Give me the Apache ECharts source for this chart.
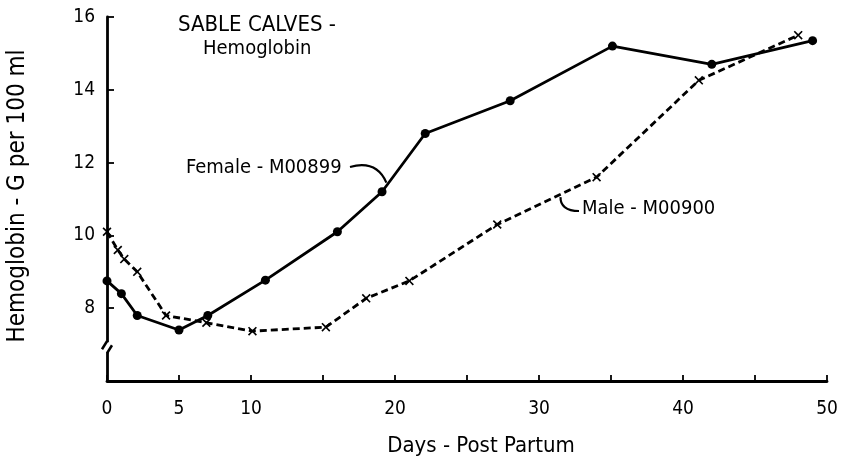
<!DOCTYPE html>
<html>
<head>
<meta charset="utf-8">
<script src="https://cdn.jsdelivr.net/npm/echarts@6/dist/echarts.min.js"></script>
<style>html,body{margin:0;padding:0;background:#fff}#c{width:845px;height:472px}</style>
</head>
<body>
<div id="c"></div>
<script>
// Female M00899: [day, hemoglobin g/100ml]
const femaleDays = [0, 1, 2.1, 5, 7, 11, 16, 19.1, 22.1, 28, 35.1, 42, 49];
const femaleHb   = [8.75, 8.4, 7.8, 7.4, 7.8, 8.77, 10.1, 11.2, 12.8, 13.7, 15.2, 14.7, 15.35];
// Male M00900
const maleDays = [0, 0.75, 1.2, 2.1, 4.1, 6.9, 10.1, 15.2, 18, 21, 27.1, 34, 41.1, 48];
const maleHb   = [10.1, 9.6, 9.35, 9.0, 7.8, 7.6, 7.37, 7.48, 8.27, 8.75, 10.3, 11.6, 14.26, 15.5];
const xLabels = [0, 5, 10, 20, 30, 40, 50];
const yLabels = [8, 10, 12, 14, 16];

const FONT = '"DejaVu Sans Condensed","DejaVu Sans",sans-serif';
const xMark = 'path://M1.3,0 L5,3.7 L8.7,0 L10,1.3 L6.3,5 L10,8.7 L8.7,10 L5,6.3 L1.3,10 L0,8.7 L3.7,5 L0,1.3 Z';

const chart = echarts.init(document.getElementById('c'), null, {renderer: 'canvas'});
const zip = (a, b) => a.map((v, i) => [v, b[i]]);

chart.setOption({
  animation: false,
  backgroundColor: '#fff',
  grid: {left: 107, right: 18, top: 17, bottom: 91, containLabel: false, outerBoundsMode: 'none'},
  xAxis: {
    type: 'value', min: 0, max: 50, interval: 5,
    name: 'Days - Post Partum', nameLocation: 'middle', nameGap: 54,
    nameTextStyle: {fontFamily: FONT, fontSize: 22, color: '#000', padding: [0, 0, 0, 28]},
    axisLine: {lineStyle: {color: '#000', width: 2.8}},
    axisTick: {inside: true, length: 6, lineStyle: {color: '#000', width: 1.8}},
    axisLabel: {customValues: xLabels, fontFamily: FONT, fontSize: 19, color: '#000', margin: 19},
    splitLine: {show: false}
  },
  yAxis: {
    type: 'value', min: 6, max: 16, interval: 2,
    name: 'Hemoglobin - G per 100 ml', nameLocation: 'middle', nameGap: 77,
    nameTextStyle: {fontFamily: FONT, fontSize: 24, color: '#000', padding: [0, 0, 0, 6]},
    axisLine: {show: true, lineStyle: {color: '#000', width: 2.8}},
    axisTick: {show: true, inside: true, length: 7, customValues: yLabels, lineStyle: {color: '#000', width: 1.8}},
    axisLabel: {customValues: yLabels, fontFamily: FONT, fontSize: 19, color: '#000', margin: 12},
    splitLine: {show: false}
  },
  series: [
    {
      name: 'Female - M00899', type: 'line', data: zip(femaleDays, femaleHb),
      symbol: 'circle', symbolSize: 9, showSymbol: true,
      lineStyle: {color: '#000', width: 2.8}, itemStyle: {color: '#000'}, z: 3
    },
    {
      name: 'Male - M00900', type: 'line', data: zip(maleDays, maleHb),
      symbol: xMark, symbolSize: 9,
      lineStyle: {color: '#000', width: 2.8, type: [7, 4]}, itemStyle: {color: '#000'}, z: 2
    }
  ]
});

// Decorations: titles, annotations, axis break
const p = (x, y) => chart.convertToPixel({gridIndex: 0}, [x, y]);
const b = p(0, 6.9);
const fArrowEnd = p(19.4, 11.45);
const mArrowEnd = p(31.5, 11.05);
chart.setOption({
  graphic: [
    {type: 'text', left: 178, top: 14, style: {text: 'SABLE CALVES -', font: '22px ' + FONT, fill: '#000'}},
    {type: 'text', left: 203, top: 39, style: {text: 'Hemoglobin', font: '20px ' + FONT, fill: '#000'}},
    {type: 'text', left: 186, top: 158, style: {text: 'Female - M00899', font: '20px ' + FONT, fill: '#000'}},
    {type: 'bezierCurve', shape: {x1: 350, y1: 167, cpx1: 368, cpy1: 162, cpx2: 380, cpy2: 168, x2: fArrowEnd[0], y2: fArrowEnd[1]},
      style: {stroke: '#000', lineWidth: 2.2, fill: null}},
    {type: 'text', left: 582, top: 199, style: {text: 'Male - M00900', font: '20px ' + FONT, fill: '#000'}},
    {type: 'bezierCurve', shape: {x1: 579, y1: 211, cpx1: 566, cpy1: 211, cpx2: 560, cpy2: 205, x2: mArrowEnd[0], y2: mArrowEnd[1]},
      style: {stroke: '#000', lineWidth: 2.2, fill: null}},
    {type: 'rect', shape: {x: b[0] - 4, y: b[1] - 6, width: 8, height: 10}, style: {fill: '#fff'}, z: 100},
    {type: 'line', shape: {x1: b[0], y1: b[1] - 7, x2: b[0] - 5, y2: b[1] + 1}, style: {stroke: '#000', lineWidth: 2.5}, z: 101},
    {type: 'line', shape: {x1: b[0] + 5, y1: b[1] - 3, x2: b[0], y2: b[1] + 5}, style: {stroke: '#000', lineWidth: 2.5}, z: 101}
  ]
});
</script>
</body>
</html>
